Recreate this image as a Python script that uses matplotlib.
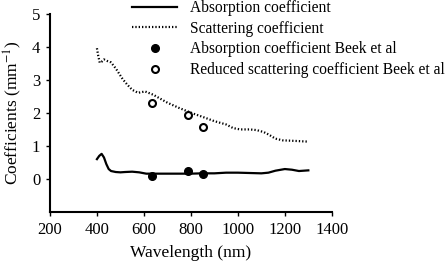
import numpy as np
import matplotlib
matplotlib.use("Agg")
import matplotlib.pyplot as plt

plt.rcParams['font.family'] = ['Liberation Serif', 'DejaVu Serif']
plt.rcParams['mathtext.fontset'] = 'stix'

# absorption coefficient (mm^-1) vs wavelength (nm)
abs_wl = [400, 410, 420, 430, 440, 450, 460, 480, 500, 520, 550, 580, 610, 650,
          700, 750, 800, 850, 900, 950, 1000, 1050, 1100, 1130, 1160, 1200,
          1230, 1260, 1300]
abs_mu = [0.60, 0.70, 0.76, 0.65, 0.45, 0.30, 0.24, 0.21, 0.20, 0.21, 0.22,
          0.20, 0.16, 0.16, 0.16, 0.16, 0.16, 0.17, 0.17, 0.19, 0.19, 0.18,
          0.17, 0.19, 0.25, 0.30, 0.28, 0.24, 0.26]

# scattering coefficient
sca_wl = [400, 405, 412, 420, 430, 445, 460, 480, 510, 530, 550, 575, 590, 605,
          640, 700, 750, 810, 850, 900, 950, 980, 1010, 1050, 1080, 1110, 1130,
          1160, 1190, 1250, 1300]
sca_mu = [3.96, 3.75, 3.52, 3.55, 3.62, 3.57, 3.53, 3.35, 3.02, 2.85, 2.70,
          2.61, 2.63, 2.65, 2.55, 2.31, 2.15, 1.98, 1.88, 1.75, 1.65, 1.54,
          1.50, 1.50, 1.48, 1.42, 1.35, 1.22, 1.17, 1.15, 1.13]

# Beek et al measurements
beek_wl = [633, 788, 850]
beek_abs = [0.08, 0.24, 0.16]
beek_sca = [2.29, 1.95, 1.58]

fig = plt.figure(figsize=(4.46, 2.62), dpi=100)
ax = fig.add_axes([0.112, 0.191, 0.632, 0.756])

ax.plot(abs_wl, abs_mu, color='k', lw=1.6, label='Absorption coefficient')
ax.plot(sca_wl, sca_mu, color='k', lw=1.6, linestyle=(0, (0.6, 0.9)),
        label='Scattering coefficient')
ax.plot(beek_wl, beek_abs, 'o', color='k', ms=5.5, ls='none',
        label='Absorption coefficient Beek et al')
ax.plot(beek_wl, beek_sca, 'o', mfc='white', mec='k', mew=1.5, ms=5,
        ls='none', label='Reduced scattering coefficient Beek et al')

ax.set_xlim(200, 1400)
ax.set_ylim(-1, 5)
ax.set_xticks(np.arange(200, 1401, 200))
ax.set_yticks(np.arange(0, 6, 1))
ax.spines['top'].set_visible(False)
ax.spines['right'].set_visible(False)
ax.spines['left'].set_linewidth(1.5)
ax.spines['bottom'].set_linewidth(1.5)
ax.tick_params(direction='out', length=3, width=1, labelsize=12, pad=4)
ax.set_xlabel('Wavelength (nm)', fontsize=12.5, labelpad=5)
ax.set_ylabel('Coefficients (mm$^{-1}$)', fontsize=12.5, labelpad=6)

fig.legend(loc='upper left', bbox_to_anchor=(132 / 446, 1.0),
           bbox_transform=fig.transFigure, frameon=False, fontsize=11.2,
           borderpad=0, borderaxespad=0, handlelength=2.9,
           handletextpad=0.85, labelspacing=0.3, numpoints=1)

fig.savefig('out.png', dpi=100)
